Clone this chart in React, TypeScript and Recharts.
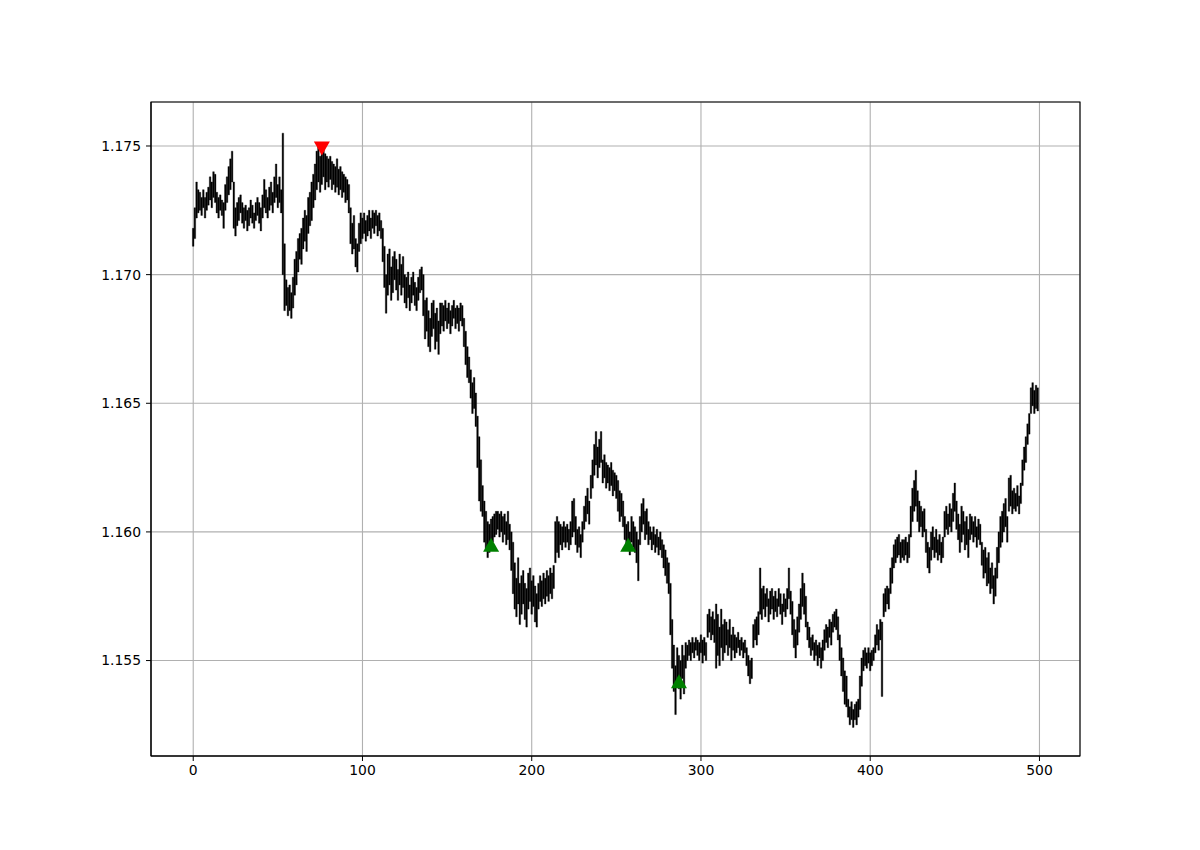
import {
  Bar,
  CartesianGrid,
  ComposedChart,
  ReferenceArea,
  Scatter,
  XAxis,
  YAxis,
} from "recharts";

// prices are stored as pips above BASE: [low, high] per bar
const BASE = 1.15;
const PIP = 0.0001;

const barsA: [number, number][] = [
  [211, 218], [214, 226], [222, 236], [224, 233], [225, 232], [223, 230], [226, 233], [222, 230], [225, 232], [227, 234],
  [229, 238], [226, 236], [230, 240], [228, 239], [224, 232], [222, 230], [225, 231], [223, 229], [218, 228], [225, 235],
  [228, 238], [231, 242], [233, 245], [236, 248], [218, 236], [215, 226], [219, 228], [221, 230], [224, 231], [220, 228],
  [218, 226], [221, 227], [217, 225], [219, 226], [222, 229], [220, 227], [218, 224], [221, 228], [223, 230], [220, 228],
  [217, 226], [222, 231], [226, 237], [224, 233], [222, 230], [225, 234], [227, 236], [224, 232], [228, 238], [230, 243],
  [226, 235], [228, 238], [224, 233], [200, 255], [186, 212], [188, 198], [184, 195], [186, 196], [183, 193], [187, 199],
  [192, 206], [196, 209], [201, 214], [206, 216], [204, 218], [210, 222], [213, 225], [209, 223], [216, 230], [219, 232],
  [221, 236], [226, 239], [229, 243], [233, 248], [236, 250], [232, 246], [235, 249], [238, 250], [233, 247], [236, 246],
  [234, 245], [237, 246], [233, 244], [235, 243], [232, 242], [234, 245], [231, 241], [233, 242], [230, 240], [232, 239],
  [228, 238], [229, 237], [224, 235], [212, 226], [208, 220], [210, 223], [203, 214], [201, 212], [209, 220], [212, 224],
];

const barsB: [number, number][] = [
  [214, 222], [216, 224], [213, 221], [215, 223], [217, 225], [214, 222], [218, 225], [216, 224], [219, 225], [215, 223],
  [217, 224], [214, 221], [205, 218], [195, 211], [185, 200], [192, 208], [196, 210], [190, 203], [193, 207], [198, 209],
  [194, 206], [190, 202], [196, 208], [192, 204], [195, 207], [189, 200], [187, 199], [191, 201], [186, 196], [189, 199],
  [192, 201], [188, 197], [186, 195], [190, 199], [193, 202], [194, 203], [184, 200], [175, 190], [178, 191], [172, 186],
  [170, 183], [176, 189], [179, 190], [171, 185], [174, 187], [169, 182], [177, 189], [180, 189], [178, 188], [182, 190],
  [179, 187], [181, 189], [177, 186], [180, 188], [183, 190], [179, 187], [181, 188], [178, 187], [182, 189], [180, 188],
  [172, 183], [165, 178], [160, 172], [158, 168], [152, 163], [146, 158], [148, 160], [141, 154], [125, 145], [112, 137],
  [108, 128], [106, 118], [96, 112], [93, 108], [90, 104], [92, 103], [94, 105], [96, 106], [98, 107], [99, 108],
  [101, 108], [98, 107], [100, 108], [96, 106], [99, 107], [95, 104], [97, 108], [93, 103], [85, 100], [76, 96],
  [70, 88], [67, 82], [72, 90], [64, 80], [68, 83], [72, 85], [66, 80], [63, 78], [70, 84], [73, 86],
];

const barsC: [number, number][] = [
  [68, 81], [71, 83], [65, 79], [63, 76], [70, 80], [73, 83], [71, 81], [74, 84], [72, 82], [75, 85],
  [73, 83], [76, 86], [74, 84], [78, 87], [88, 104], [92, 106], [90, 104], [95, 103], [93, 102], [96, 104],
  [94, 102], [96, 103], [93, 101], [95, 104], [98, 112], [100, 113], [95, 106], [92, 101], [94, 102], [90, 99],
  [96, 104], [101, 110], [104, 114], [107, 117], [103, 112], [113, 122], [117, 128], [122, 134], [126, 139], [121, 133],
  [125, 136], [127, 139], [119, 128], [121, 130], [117, 127], [119, 126], [116, 125], [118, 127], [114, 124], [116, 123],
  [113, 122], [108, 120], [104, 116], [106, 115], [102, 112], [97, 106], [93, 103], [95, 104], [91, 100], [96, 106],
  [94, 104], [92, 102], [88, 100], [81, 97], [95, 106], [100, 111], [103, 113], [97, 108], [99, 109], [95, 104],
  [97, 102], [93, 100], [95, 102], [92, 99], [94, 101], [91, 98], [93, 100], [90, 97], [86, 95], [83, 93],
  [80, 90], [76, 88], [60, 80], [47, 66], [38, 56], [29, 48], [42, 55], [39, 52], [35, 50], [43, 56],
  [37, 52], [47, 57], [50, 56], [52, 58], [50, 57], [53, 59], [51, 57], [54, 59], [52, 58], [50, 57],
];

const barsD: [number, number][] = [
  [53, 60], [49, 58], [52, 59], [50, 57], [59, 68], [61, 70], [58, 67], [60, 69], [57, 66], [47, 72],
  [52, 68], [48, 63], [55, 70], [50, 64], [53, 66], [56, 65], [52, 62], [55, 66], [50, 60], [54, 63],
  [51, 60], [53, 59], [55, 61], [52, 58], [54, 59], [51, 57], [53, 58], [48, 55], [44, 52], [41, 50],
  [43, 51], [55, 64], [58, 66], [56, 67], [60, 69], [68, 86], [66, 78], [70, 79], [67, 76], [71, 78],
  [65, 74], [68, 77], [70, 78], [66, 75], [69, 77], [67, 74], [71, 78], [68, 76], [64, 72], [69, 76],
  [67, 74], [70, 78], [74, 86], [68, 77], [60, 73], [55, 66], [51, 62], [56, 67], [61, 72], [66, 78],
  [71, 84], [68, 80], [63, 75], [58, 65], [55, 63], [52, 59], [54, 60], [50, 57], [52, 58], [48, 56],
  [51, 57], [47, 55], [50, 58], [54, 62], [57, 64], [55, 63], [59, 66], [56, 65], [61, 68], [63, 69],
  [62, 70], [58, 67], [50, 60], [44, 55], [38, 51], [33, 46], [32, 44], [28, 35], [25, 32], [27, 34],
  [24, 31], [27, 33], [25, 34], [28, 35], [31, 44], [40, 51], [46, 54], [48, 55], [47, 53], [49, 55],
];

const barsE: [number, number][] = [
  [46, 53], [48, 54], [50, 55], [53, 60], [56, 64], [54, 62], [58, 66], [36, 65], [67, 76], [69, 78],
  [72, 79], [70, 78], [76, 86], [80, 90], [86, 95], [88, 97], [90, 98], [91, 99], [88, 96], [90, 97],
  [89, 97], [91, 98], [88, 96], [90, 99], [98, 110], [104, 117], [108, 120], [110, 124], [104, 116], [100, 112],
  [102, 110], [98, 108], [100, 109], [92, 101], [86, 96], [84, 94], [89, 100], [93, 102], [90, 98], [92, 101],
  [89, 97], [91, 99], [88, 96], [90, 98], [98, 108], [101, 110], [99, 107], [102, 111], [100, 109], [104, 115],
  [108, 119], [101, 112], [97, 107], [92, 103], [96, 110], [99, 108], [93, 104], [95, 106], [90, 101], [97, 107],
  [99, 106], [96, 104], [98, 106], [94, 102], [97, 105], [95, 103], [87, 96], [82, 93], [84, 94], [79, 90],
  [80, 92], [76, 86], [78, 88], [72, 83], [75, 86], [82, 94], [88, 100], [94, 106], [96, 108], [100, 111],
  [102, 113], [96, 106], [108, 121], [110, 122], [107, 116], [109, 117], [108, 115], [110, 118], [107, 114], [111, 119],
  [118, 128], [124, 133], [127, 137], [134, 142], [138, 146], [146, 156], [149, 158], [146, 155], [148, 157], [147, 156],
];

// signal markers: bar index and price
const sellSignals = [{ i: 76, y: 1.1749 }];
const buySignals = [
  { i: 176, y: 1.1595 },
  { i: 257, y: 1.1595 },
  { i: 287, y: 1.1542 },
];

const xTicks = [0, 100, 200, 300, 400, 500];
const yTicks = [1.155, 1.16, 1.165, 1.17, 1.175];

const data = [...barsA, ...barsB, ...barsC, ...barsD, ...barsE].map(([lo, hi], i) => ({
  i,
  range: [BASE + lo * PIP, BASE + hi * PIP],
}));

const tickStyle = { fill: "#000", fontSize: 13.9, fontFamily: "DejaVu Sans" };

function Triangle(props: any) {
  const { cx, cy, fill, down } = props;
  const w = 8;
  const h = 7;
  const d = down
    ? `M${cx - w},${cy - h} L${cx + w},${cy - h} L${cx},${cy + h} Z`
    : `M${cx - w},${cy + h} L${cx + w},${cy + h} L${cx},${cy - h} Z`;
  return <path d={d} fill={fill} />;
}

export default function App() {
  return (
    <div style={{ position: "absolute", left: 0, top: 0, width: 1200, height: 850, background: "#fff" }}>
      <ComposedChart
        width={1200}
        height={850}
        data={data}
        margin={{ top: 102, right: 120, bottom: 64, left: 91 }}
      >
        <CartesianGrid stroke="#b0b0b0" strokeWidth={1.1} />
        <XAxis
          dataKey="i"
          type="number"
          domain={[-24.95, 523.95]}
          ticks={xTicks}
          allowDataOverflow
          height={30}
          tick={tickStyle}
          tickSize={5}
          tickMargin={4}
          stroke="#000"
        />
        <YAxis
          type="number"
          domain={[1.15129, 1.17671]}
          ticks={yTicks}
          allowDataOverflow
          width={60}
          tick={tickStyle}
          tickSize={5}
          tickMargin={5}
          tickFormatter={(v: number) => v.toFixed(3)}
          stroke="#000"
        />
        <Bar
          dataKey="range"
          fill="#000"
          stroke="#000"
          strokeWidth={0.35}
          barSize={1.6}
          isAnimationActive={false}
        />
        <Scatter
          data={sellSignals}
          dataKey="y"
          fill="#ff0000"
          shape={(p: any) => <Triangle {...p} fill="#ff0000" down />}
          isAnimationActive={false}
        />
        <Scatter
          data={buySignals}
          dataKey="y"
          fill="#008000"
          shape={(p: any) => <Triangle {...p} fill="#008000" />}
          isAnimationActive={false}
        />
        <ReferenceArea
          x1={-24.95}
          x2={523.95}
          y1={1.15129}
          y2={1.17671}
          fill="none"
          stroke="#000"
          strokeWidth={1.1}
          ifOverflow="visible"
        />
      </ComposedChart>
    </div>
  );
}
